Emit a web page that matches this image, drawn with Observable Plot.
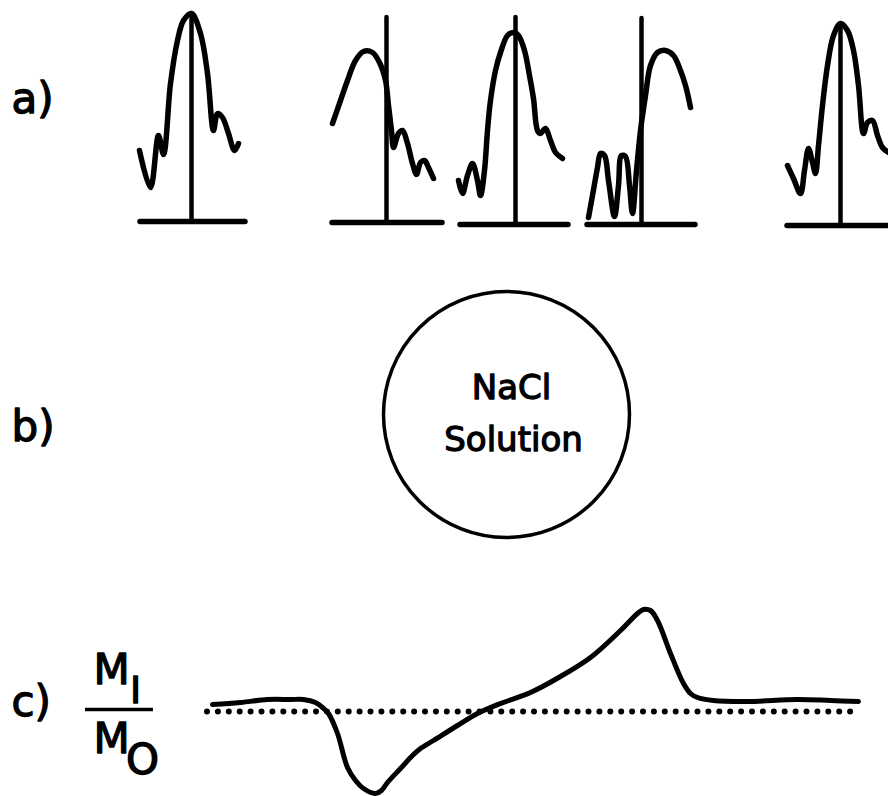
<!DOCTYPE html>
<html><head><meta charset="utf-8">
<script src="https://cdn.jsdelivr.net/npm/d3@7"></script>
<script src="https://cdn.jsdelivr.net/npm/@observablehq/plot@0.6"></script>
<style>html,body{margin:0;padding:0;background:#fff;}#chart{width:888px;height:796px;}</style>
</head><body><div id="chart"></div>
<script>
// Panel a) — five scattered-pulse traces (time, signal)
const pulse1 = [[139,150],[150,187],[158,135],[163,154],[170,83],[177,40],[183,20],[191,13],[200,33],[207,73],[213,130],[217,113],[222,117],[228,133],[234,150],[238,143]];
const pulse2 = [[332,123],[340,100],[347,80],[355,60],[363,51],[372,52],[379,62],[385,80],[388,105],[391,130],[393,147],[398,133],[402,130],[407,143],[412,163],[416,174],[420,162],[424,160],[428,167],[433,178]];
const pulse3 = [[458,180],[462,193],[467,175],[472,163],[477,180],[480,195],[484,170],[487,130],[490,100],[495,70],[500,52],[507,35],[513,32],[518,35],[524,50],[529,75],[533,98],[537,130],[540,133],[545,128],[550,140],[555,152],[562,158]];
const pulse4 = [[588,217],[592,195],[597,167],[600,153],[604,155],[608,180],[614,216],[618,185],[621,155],[625,156],[629,185],[632,213],[636,170],[640,130],[645,95],[650,65],[657,52],[665,50],[673,55],[680,70],[685,85],[690,107]];
const pulse5 = [[787,165],[793,178],[800,193],[804,170],[808,148],[812,162],[815,173],[818,145],[822,105],[827,65],[833,35],[840,23],[847,30],[853,50],[858,85],[863,133],[867,122],[872,120],[877,135],[882,147],[888,152]];
const markerX   = [191, 386, 515, 641, 840];
const markerTop = [13, 17, 17, 18, 25];
const baseY     = [221, 222, 224, 224, 225];
const baseFrom  = [140, 332, 460, 587, 787];
const baseTo    = [245, 442, 568, 695, 900];

// Panel c) — M_I / M_O ratio trace
const ratio = [[212,704],[240,702],[267,699],[290,699],[303,699],[315,702],[322,707],[328,713],[337,733],[347,767],[355,780],[363,788],[375,793],[381,790],[387,782],[400,768],[412,755],[420,748],[433,740],[457,725],[477,713],[500,703],[530,692],[560,676],[590,657],[620,630],[637,613],[643,609],[650,610],[657,620],[670,653],[683,683],[690,693],[697,697],[713,700],[747,701],[797,699],[830,700],[858,701]];
const unityLevel = 711;
const unityFrom = 207, unityTo = 858;

// Labels
const panelLabels = ["a)", "b)", "c)"];
const circleText = ["NaCl", "Solution"];

const font = "DejaVu Sans, sans-serif";
const pulses = [pulse1, pulse2, pulse3, pulse4, pulse5];
const pulseRows = pulses.flatMap((p, i) => p.map(([x, y]) => ({trace: i, x, y})));
const markers = markerX.map((x, i) => ({x, top: markerTop[i], bottom: baseY[i]}));
const bases = baseY.map((y, i) => ({y, x1: baseFrom[i], x2: baseTo[i]}));
const ratioRows = ratio.map(([x, y]) => ({x, y}));
const heavy = {fill: "#000", stroke: "#000", strokeWidth: 1.3, paintOrder: "stroke"};

const chart = Plot.plot({
  width: 888, height: 796,
  margin: 0,
  x: {domain: [0, 888], range: [0, 888], axis: null},
  y: {domain: [0, 796], range: [0, 796], axis: null},
  style: {background: "#fff", fontFamily: font},
  marks: [
    // a)
    Plot.ruleY(bases, {y: "y", x1: "x1", x2: "x2", stroke: "#000", strokeWidth: 5.5, strokeLinecap: "round"}),
    Plot.ruleX(markers, {x: "x", y1: "top", y2: "bottom", stroke: "#000", strokeWidth: 4.5, strokeLinecap: "round"}),
    Plot.line(pulseRows, {x: "x", y: "y", z: "trace", curve: "catmull-rom", stroke: "#000", strokeWidth: 5.5, strokeLinejoin: "round", strokeLinecap: "round"}),
    // b)
    Plot.dot([{x: 506, y: 414}], {x: "x", y: "y", r: 123, stroke: "#000", strokeWidth: 3.5, fill: "none"}),
    Plot.text([circleText[0]], {x: 511, y: 398, text: d => d, fontSize: 34, lineAnchor: "bottom", ...heavy}),
    Plot.text([circleText[1]], {x: 513, y: 450, text: d => d, fontSize: 34, lineAnchor: "bottom", ...heavy}),
    // c)
    Plot.ruleY([unityLevel], {x1: unityFrom, x2: unityTo, stroke: "#000", strokeWidth: 6, strokeDasharray: "0,10.9", strokeLinecap: "round"}),
    Plot.line(ratioRows, {x: "x", y: "y", curve: "catmull-rom", stroke: "#000", strokeWidth: 5, strokeLinejoin: "round", strokeLinecap: "round"}),
    Plot.ruleY([709], {x1: 85, x2: 153, stroke: "#000", strokeWidth: 3.5}),
    Plot.text(["M"], {x: 93, y: 683, text: d => d, fontSize: 42, textAnchor: "start", lineAnchor: "bottom", ...heavy}),
    Plot.text(["I"], {x: 135, y: 702, text: d => d, fontSize: 38, textAnchor: "middle", lineAnchor: "bottom", ...heavy}),
    Plot.text(["M"], {x: 93, y: 752, text: d => d, fontSize: 42, textAnchor: "start", lineAnchor: "bottom", ...heavy}),
    Plot.text(["O"], {x: 142, y: 773, text: d => d, fontSize: 42, textAnchor: "middle", lineAnchor: "bottom", ...heavy}),
    // panel labels
    Plot.text(panelLabels, {x: 11, y: (d, i) => [112, 440, 715][i], text: d => d, fontSize: 42, textAnchor: "start", lineAnchor: "bottom", ...heavy})
  ]
});
document.getElementById("chart").appendChild(chart);
</script>
</body></html>
